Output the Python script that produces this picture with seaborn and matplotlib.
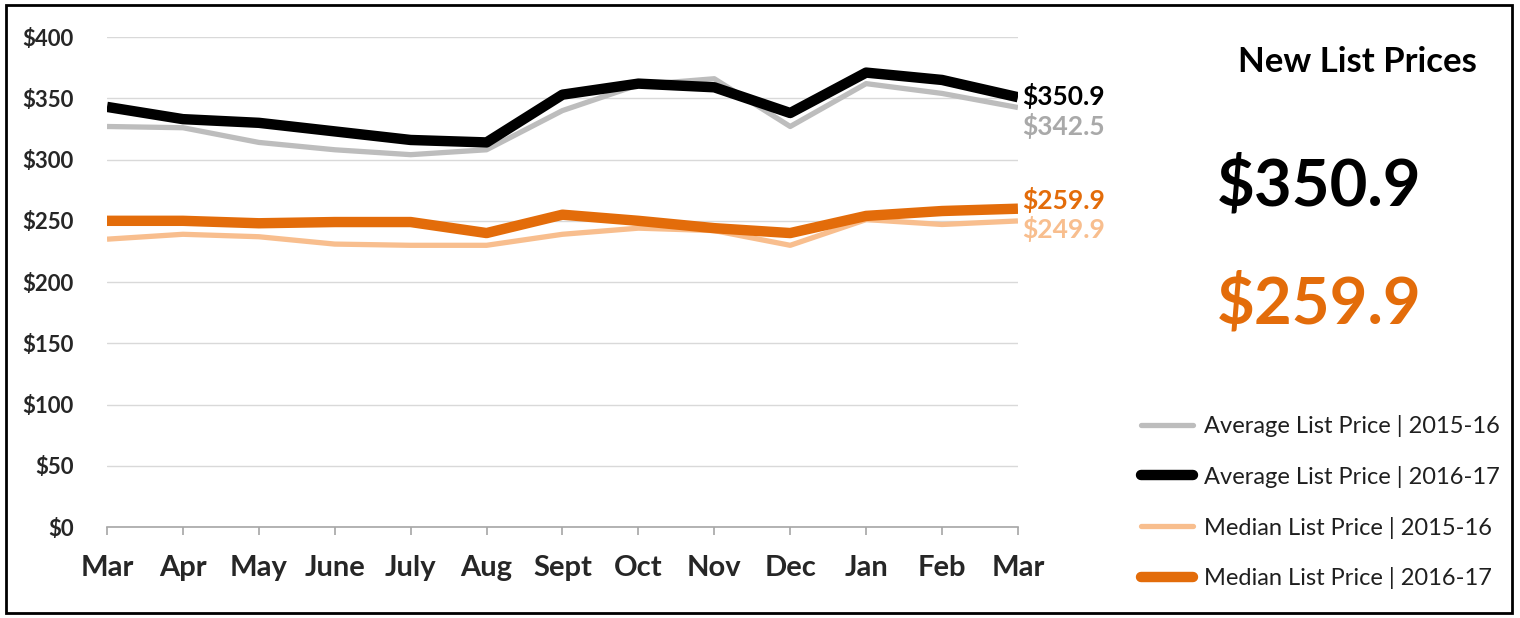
import matplotlib
matplotlib.use("Agg")
import matplotlib.pyplot as plt
import seaborn as sns
import pandas as pd
from matplotlib.patches import Rectangle
from matplotlib.lines import Line2D

months = ["Mar", "Apr", "May", "June", "July", "Aug", "Sept", "Oct", "Nov", "Dec", "Jan", "Feb", "Mar"]
avg_2015_16 = [327, 326, 314, 308, 304, 308, 340, 361, 366, 327, 362, 354, 342.5]
avg_2016_17 = [343, 333, 330, 323, 316, 314, 353, 362, 359, 338, 371, 365, 350.9]
med_2015_16 = [235, 239, 237, 231, 230, 230, 239, 244, 242, 230, 251, 247, 249.9]
med_2016_17 = [250, 250, 248, 249, 249, 240, 255, 250, 244, 240, 254, 258, 259.9]
series_names = ["Average List Price | 2015-16", "Average List Price | 2016-17",
                "Median List Price | 2015-16", "Median List Price | 2016-17"]
y_ticks = [0, 50, 100, 150, 200, 250, 300, 350, 400]

colors = ["#BDBDBD", "#000000", "#F8BE8E", "#E36C0A"]
label_colors = ["#A9A9A9", "#000000", "#F8BE8E", "#E36C0A"]
widths = [3.8, 7.5, 3.8, 7.5]

sns.set_style("white")
plt.rcParams["font.family"] = ["Lato", "DejaVu Sans"]

fig = plt.figure(figsize=(15.2, 6.18), dpi=100)
ax = fig.add_axes([0.0704, 0.1472, 0.5993, 0.7928])

xs = list(range(len(months)))
all_series = [avg_2015_16, avg_2016_17, med_2015_16, med_2016_17]
for vals, c, w in zip(all_series, colors, widths):
    sns.lineplot(x=xs, y=vals, ax=ax, color=c, linewidth=w, solid_capstyle="butt")

ax.set_xlim(0, len(months) - 1)
ax.set_ylim(0, 400)
ax.set_yticks(y_ticks)
ax.set_yticklabels([f"${v}" for v in y_ticks], fontsize=16, fontweight="bold")
ax.set_xticks(xs)
ax.set_xticklabels(months, fontsize=21, fontweight="bold")
ax.yaxis.grid(True, color="#D9D9D9", linewidth=1)
ax.set_axisbelow(True)
for s in ["top", "right", "left"]:
    ax.spines[s].set_visible(False)
ax.spines["bottom"].set_color("#A6A6A6")
ax.spines["bottom"].set_linewidth(1.2)
ax.tick_params(axis="x", which="major", length=6, color="#A6A6A6", width=1.2, pad=14, direction="out", bottom=True)
ax.tick_params(axis="y", length=0, pad=24)
ax.set_xlabel("")
ax.set_ylabel("")

# end labels (vertical offsets in points to avoid overlap)
end_offsets = [-13, 1, -6, 6]
for vals, dy, c in zip(all_series, end_offsets, label_colors):
    ax.annotate(f"${vals[-1]:.1f}", xy=(xs[-1], vals[-1]), xytext=(3, dy),
                textcoords="offset points", fontsize=19, fontweight="bold",
                color=c, va="center", ha="left", annotation_clip=False)

# right panel texts
fig.text(0.893, 0.900, "New List Prices", fontsize=25, fontweight="bold", ha="center", va="center", color="#000000")
fig.text(0.868, 0.700, f"${avg_2016_17[-1]:.1f}", fontsize=47, fontweight="bold", ha="center", va="center", color="#000000")
fig.text(0.868, 0.508, f"${med_2016_17[-1]:.1f}", fontsize=47, fontweight="bold", ha="center", va="center", color="#E36C0A")

handles = [Line2D([0], [0], color=c, linewidth=w, solid_capstyle="round") for c, w in zip(colors, widths)]
leg = fig.legend(handles, series_names, loc="upper left", bbox_to_anchor=(0.737, 0.363),
                 frameon=False, fontsize=17, handlelength=2.2, handletextpad=0.45, labelspacing=1.22)
for t in leg.get_texts():
    t.set_color("#1F1F1F")

fig.patches.append(Rectangle((0.004, 0.008), 0.991, 0.984, transform=fig.transFigure,
                             fill=False, edgecolor="#000000", linewidth=2))

fig.savefig("out.png", dpi=100)
